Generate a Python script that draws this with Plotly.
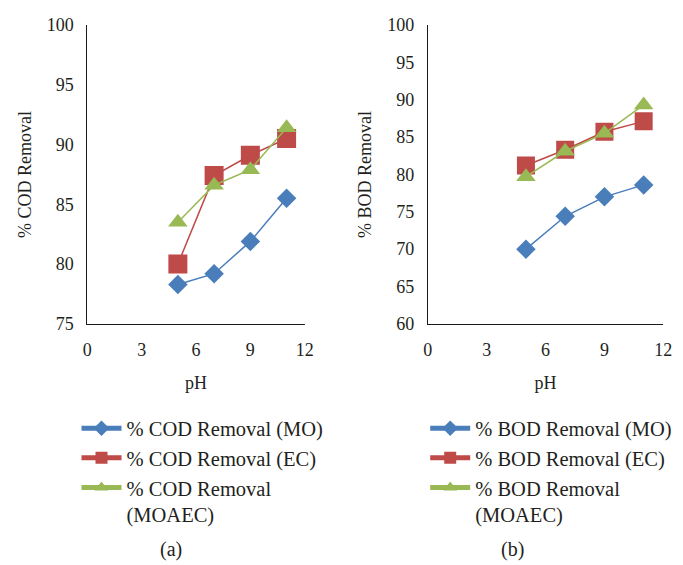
import plotly.graph_objects as go

ph = [5, 7, 9, 11]

cod_mo = [78.3, 79.2, 81.9, 85.5]
cod_ec = [80.0, 87.4, 89.1, 90.5]
cod_moaec = [83.5, 86.6, 87.9, 91.4]

bod_mo = [70.0, 74.4, 77.0, 78.6]
bod_ec = [81.2, 83.3, 85.7, 87.1]
bod_moaec = [79.7, 83.1, 85.5, 89.3]

x_ticks = [0, 3, 6, 9, 12]

BLUE = "#4A7EBB"
RED = "#BE4B48"
GREEN = "#98B954"
TXT = "#231F20"
FONT = "Liberation Serif, Times New Roman, serif"

fig = go.Figure()

def add(x, y, name, color, symbol, size, xa, ya, legend):
    fig.add_trace(go.Scatter(
        x=x, y=y, name=name, mode="lines+markers",
        line=dict(color=color, width=1.5),
        marker=dict(color=color, symbol=symbol, size=size),
        xaxis=xa, yaxis=ya, legend=legend,
    ))

add(ph, cod_mo, "% COD Removal (MO)", BLUE, "diamond", 15, "x", "y", "legend")
add(ph, cod_ec, "% COD Removal (EC)", RED, "square", 19, "x", "y", "legend")
add(ph, cod_moaec, "% COD Removal<br>(MOAEC)", GREEN, "triangle-up", 17, "x", "y", "legend")

add(ph, bod_mo, "% BOD Removal (MO)", BLUE, "diamond", 15, "x2", "y2", "legend2")
add(ph, bod_ec, "% BOD Removal (EC)", RED, "square", 18, "x2", "y2", "legend2")
add(ph, bod_moaec, "% BOD Removal<br>(MOAEC)", GREEN, "triangle-up", 17, "x2", "y2", "legend2")

axis_common = dict(
    showgrid=False, zeroline=False, showline=True, linecolor="#1a1a1a", linewidth=1,
    ticks="", tickfont=dict(family=FONT, size=18, color=TXT),
    title_font=dict(family=FONT, size=18, color=TXT),
)

LEG_FONT = dict(family=FONT, size=20.5, color=TXT)

fig.update_layout(
    width=683, height=565,
    margin=dict(l=0, r=0, t=0, b=0),
    paper_bgcolor="white", plot_bgcolor="white",
    font=dict(family=FONT, size=18, color=TXT),
    xaxis=dict(domain=[0.123, 0.448], range=[0, 12], tickvals=x_ticks,
               ticklabelstandoff=9, title=dict(text="pH", standoff=17), anchor="y", **axis_common),
    yaxis=dict(domain=[0.424, 0.9726], range=[75, 100], dtick=5,
               ticklabelstandoff=9, title=dict(text="% COD Removal", standoff=10), anchor="x", **axis_common),
    xaxis2=dict(domain=[0.632, 0.984], range=[0, 12], tickvals=x_ticks,
                ticklabelstandoff=9, title=dict(text="pH", standoff=17), anchor="y2", **axis_common),
    yaxis2=dict(domain=[0.424, 0.9726], range=[60, 100], dtick=5,
                ticklabelstandoff=9, title=dict(text="% BOD Removal", standoff=10), anchor="x2", **axis_common),
    legend=dict(x=73 / 683, y=1 - 413 / 565, xanchor="left", yanchor="top", bgcolor="rgba(0,0,0,0)",
                font=LEG_FONT, itemsizing="constant", tracegroupgap=0, itemwidth=40, valign="top"),
    legend2=dict(x=429 / 683, y=1 - 413 / 565, xanchor="left", yanchor="top", bgcolor="rgba(0,0,0,0)",
                 font=LEG_FONT, itemsizing="constant", tracegroupgap=0, itemwidth=40, valign="top"),
    annotations=[
        dict(text="(a)", x=169 / 683, y=1 - 559 / 565, xref="paper", yref="paper",
             xanchor="center", yanchor="middle",
             showarrow=False, font=dict(family=FONT, size=20, color=TXT)),
        dict(text="(b)", x=518 / 683, y=1 - 559 / 565, xref="paper", yref="paper",
             xanchor="center", yanchor="middle",
             showarrow=False, font=dict(family=FONT, size=20, color=TXT)),
    ],
)

fig.write_html("out.html")
